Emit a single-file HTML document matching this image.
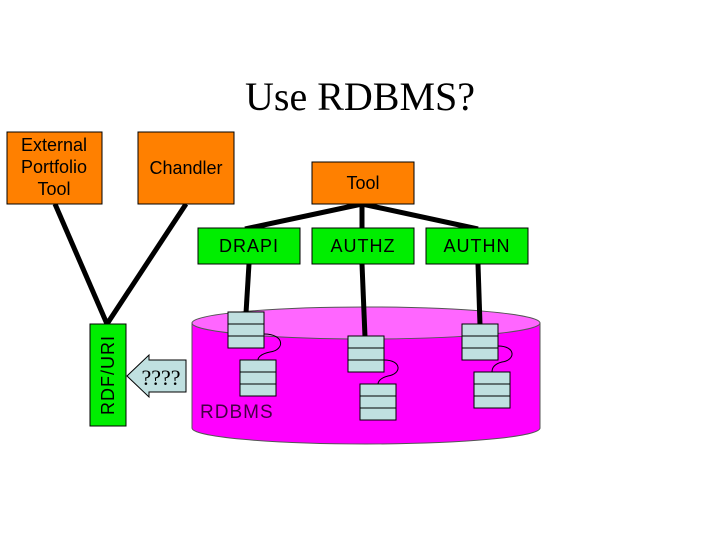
<!DOCTYPE html>
<html><head><style>
body{margin:0;width:720px;height:540px;background:#fff;overflow:hidden}
</style></head><body>
<svg width="720" height="540" xmlns="http://www.w3.org/2000/svg" font-family="Liberation Sans, sans-serif">
<rect width="720" height="540" fill="#fff"/>
<text x="360" y="110" font-family="Liberation Serif, serif" font-size="40" text-anchor="middle">Use RDBMS?</text>
<path d="M192,323 L192,428 A174,16 0 0 0 540,428 L540,323 Z" fill="#ff00ff" stroke="#555" stroke-width="1"/>
<ellipse cx="366" cy="323" rx="174" ry="16" fill="#ff66ff" stroke="#555" stroke-width="1"/>
<text x="200" y="418" font-size="19" fill="#440044" letter-spacing="1">RDBMS</text>
<g stroke="#000" stroke-width="5" fill="none">
<line x1="55" y1="204" x2="107" y2="324"/>
<line x1="186" y1="204" x2="107" y2="324"/>
<line x1="362" y1="204" x2="245" y2="229"/>
<line x1="362" y1="204" x2="362" y2="229"/>
<line x1="362" y1="204" x2="478" y2="229"/>
<line x1="249" y1="264" x2="246" y2="313"/>
<line x1="362" y1="264" x2="365" y2="337"/>
<line x1="478" y1="264" x2="480" y2="325"/>
</g>
<g stroke="#000" stroke-width="1">
<rect x="7" y="132" width="95" height="72" fill="#ff8000"/>
<rect x="138" y="132" width="96" height="72" fill="#ff8000"/>
<rect x="312" y="162" width="102" height="42" fill="#ff8000"/>
<rect x="198" y="228" width="102" height="36" fill="#00ee00"/>
<rect x="312" y="228" width="102" height="36" fill="#00ee00"/>
<rect x="426" y="228" width="102" height="36" fill="#00ee00"/>
<rect x="90" y="324" width="36" height="102" fill="#00ee00"/>
</g>
<g font-size="18" text-anchor="middle" fill="#000">
<text x="54" y="151">External</text>
<text x="54" y="173">Portfolio</text>
<text x="54" y="195">Tool</text>
<text x="186" y="174">Chandler</text>
<text x="363" y="189">Tool</text>
<text x="249" y="252" letter-spacing="1">DRAPI</text>
<text x="363" y="252" letter-spacing="1">AUTHZ</text>
<text x="477" y="252" letter-spacing="1">AUTHN</text>
<text transform="translate(114,375) rotate(-90)" letter-spacing="1">RDF/URI</text>
</g>
<path d="M186,360 L149,360 L149,355 L127,376 L149,397 L149,392 L186,392 Z" fill="#c0e0e0" stroke="#000" stroke-width="1"/>
<text x="161" y="385" font-family="Liberation Serif, serif" font-size="22" text-anchor="middle">????</text>
<g stroke="#000" stroke-width="1" fill="none">
<path d="M264,334 C285,334 285,350 270,352 C260,354 258,358 258,360"/>
<path d="M384,360 C402,360 402,374 388,376 C380,378 378,382 378,384"/>
<path d="M498,346 C516,346 516,360 502,362 C494,364 492,368 492,372"/>
</g>
<g fill="#c0e0e0" stroke="#000" stroke-width="1">
<rect x="228" y="312" width="36" height="36"/><line x1="228" y1="324" x2="264" y2="324"/><line x1="228" y1="336" x2="264" y2="336"/>
<rect x="240" y="360" width="36" height="36"/><line x1="240" y1="372" x2="276" y2="372"/><line x1="240" y1="384" x2="276" y2="384"/>
<rect x="348" y="336" width="36" height="36"/><line x1="348" y1="348" x2="384" y2="348"/><line x1="348" y1="360" x2="384" y2="360"/>
<rect x="360" y="384" width="36" height="36"/><line x1="360" y1="396" x2="396" y2="396"/><line x1="360" y1="408" x2="396" y2="408"/>
<rect x="462" y="324" width="36" height="36"/><line x1="462" y1="336" x2="498" y2="336"/><line x1="462" y1="348" x2="498" y2="348"/>
<rect x="474" y="372" width="36" height="36"/><line x1="474" y1="384" x2="510" y2="384"/><line x1="474" y1="396" x2="510" y2="396"/>
</g>
</svg>
</body></html>
